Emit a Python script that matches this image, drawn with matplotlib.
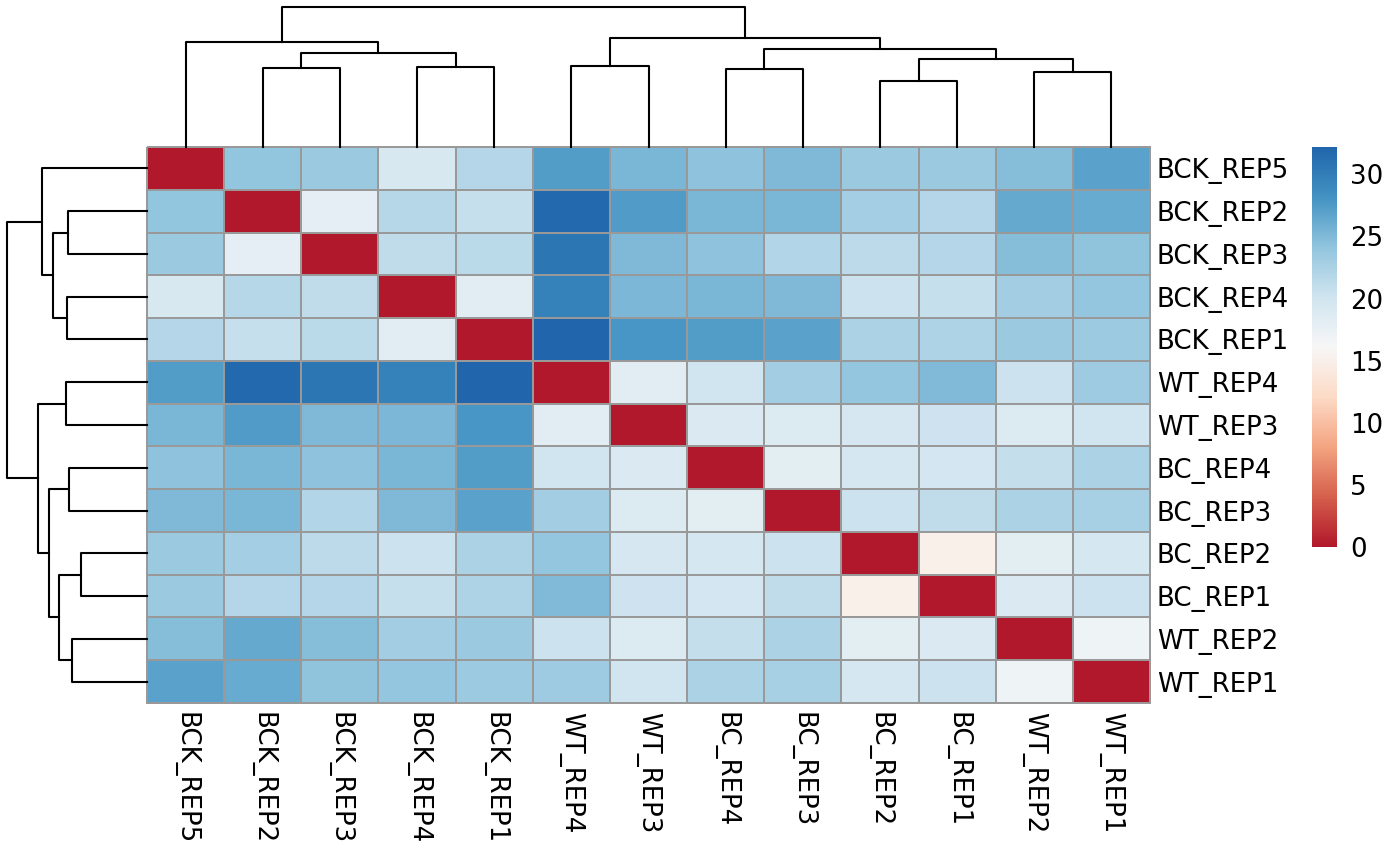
import numpy as np
import matplotlib
matplotlib.use("Agg")
import matplotlib.pyplot as plt
from matplotlib.colors import LinearSegmentedColormap

plt.rcParams['font.family'] = ['DejaVu Sans']

# ---------------- data ----------------
samples = ["BCK_REP5", "BCK_REP2", "BCK_REP3", "BCK_REP4", "BCK_REP1",
           "WT_REP4", "WT_REP3", "BC_REP4", "BC_REP3", "BC_REP2",
           "BC_REP1", "WT_REP2", "WT_REP1"]

# sample-to-sample distances (rows/cols in the order above)
distances = [
    [0.0, 24.1, 23.6, 19.4, 21.9, 27.3, 25.3, 24.3, 25.1, 23.6, 23.6, 24.7, 27.0],
    [24.1, 0.0, 18.1, 21.8, 20.8, 31.9, 27.5, 25.4, 25.4, 23.0, 21.9, 26.4, 26.2],
    [23.6, 18.1, 0.0, 21.2, 21.6, 30.7, 25.1, 24.4, 22.1, 21.4, 22.0, 24.7, 24.2],
    [19.4, 21.8, 21.2, 0.0, 18.3, 29.7, 25.2, 25.4, 25.1, 20.5, 20.8, 23.1, 24.0],
    [21.9, 20.8, 21.6, 18.3, 0.0, 32.2, 27.8, 27.3, 27.0, 22.4, 22.3, 23.6, 23.5],
    [27.3, 31.9, 30.7, 29.7, 32.2, 0.0, 18.3, 20.1, 23.1, 23.9, 25.0, 20.5, 23.3],
    [25.3, 27.5, 25.1, 25.2, 27.8, 18.3, 0.0, 19.0, 18.9, 19.5, 20.3, 18.9, 20.1],
    [24.3, 25.4, 24.4, 25.4, 27.3, 20.1, 19.0, 0.0, 18.2, 19.7, 19.8, 21.0, 22.5],
    [25.1, 25.4, 22.1, 25.1, 27.0, 23.1, 18.9, 18.2, 0.0, 20.5, 21.2, 22.5, 22.7],
    [23.6, 23.0, 21.4, 20.5, 22.4, 23.9, 19.5, 19.7, 20.5, 0.0, 15.0, 18.2, 19.7],
    [23.6, 21.9, 22.0, 20.8, 22.3, 25.0, 20.3, 19.8, 21.2, 15.0, 0.0, 19.2, 20.4],
    [24.7, 26.4, 24.7, 23.1, 23.6, 20.5, 18.9, 21.0, 22.5, 18.2, 19.2, 0.0, 17.0],
    [27.0, 26.2, 24.2, 24.0, 23.5, 23.3, 20.1, 22.5, 22.7, 19.7, 20.4, 17.0, 0.0],
]

# hierarchical clustering (scipy-style linkage: left id, right id, height)
# leaves 0..12 index into `samples`; merged clusters get ids 13, 14, ...
linkage = [
    (9, 10, 66.0),
    (11, 12, 75.0),
    (7, 8, 78.0),
    (1, 2, 79.0),
    (3, 4, 80.5),
    (5, 6, 81.0),
    (13, 14, 88.5),
    (16, 17, 94.0),
    (15, 19, 98.0),
    (0, 20, 105.0),
    (18, 21, 109.0),
    (22, 23, 140.0),
]

legend_ticks = [0, 5, 10, 15, 20, 25, 30]

# ---------------- style ----------------
rdbu9 = ["#B2182B", "#D6604D", "#F4A582", "#FDDBC7", "#F7F7F7",
         "#D1E5F0", "#92C5DE", "#4393C3", "#2166AC"]
cmap = LinearSegmentedColormap.from_list("rdbu_r", rdbu9, N=256)
mat = np.array(distances)
vmin, vmax = 0.0, mat.max()
n = len(samples)

W, H = 1400, 865
fig = plt.figure(figsize=(W / 100, H / 100), dpi=100)


def fx(px):
    return px / W


def fy(py):
    return 1 - py / H


hm_l, hm_r, hm_t, hm_b = 147, 1150, 147, 703
ax = fig.add_axes([fx(hm_l), fy(hm_b), fx(hm_r - hm_l), (hm_b - hm_t) / H])
mesh = ax.pcolormesh(np.arange(n + 1), np.arange(n + 1), mat, cmap=cmap,
                     vmin=vmin, vmax=vmax, edgecolors="#999999",
                     linewidth=1.4)
mesh.set_clip_on(False)
ax.set_xlim(0, n)
ax.set_ylim(n, 0)
for s in ax.spines.values():
    s.set_visible(False)
ax.set_xticks(np.arange(n) + 0.5)
ax.set_xticklabels(samples, rotation=270, fontsize=18.7)
ax.set_yticks(np.arange(n) + 0.5)
ax.set_yticklabels(samples, fontsize=18.7)
ax.yaxis.tick_right()
ax.tick_params(axis="x", length=0, pad=6.5)
ax.tick_params(axis="y", length=0, pad=5)

# ---------------- dendrograms ----------------
pos = {i: i + 0.5 for i in range(n)}
hgt = {i: 0.0 for i in range(n)}
segments = []
for k, (a, b, h) in enumerate(linkage):
    node = n + k
    segments.append(([pos[a], pos[a], pos[b], pos[b]], [hgt[a], h, h, hgt[b]]))
    pos[node] = (pos[a] + pos[b]) / 2
    hgt[node] = h
root_h = linkage[-1][2]

axt = fig.add_axes([fx(hm_l), fy(hm_t), fx(hm_r - hm_l), (hm_t - 7) / H])
for xs, ys in segments:
    axt.plot(xs, ys, color="black", lw=1.5, solid_capstyle="projecting",
             clip_on=False)
axt.set_xlim(0, n)
axt.set_ylim(0, root_h)
axt.axis("off")

axl = fig.add_axes([fx(7), fy(hm_b), fx(hm_l - 7), (hm_b - hm_t) / H])
for xs, ys in segments:
    axl.plot(ys, xs, color="black", lw=1.5, solid_capstyle="projecting",
             clip_on=False)
axl.set_ylim(n, 0)
axl.set_xlim(root_h, 0)
axl.axis("off")

# ---------------- legend ----------------
cb_t, cb_b = 147, 547
axc = fig.add_axes([fx(1312), fy(cb_b), fx(25), (cb_b - cb_t) / H])
grad = np.linspace(vmin, vmax, 256).reshape(-1, 1)
axc.imshow(grad, cmap=cmap, vmin=vmin, vmax=vmax, aspect="auto",
           origin="lower", extent=[0, 1, vmin, vmax])
axc.set_xlim(0, 1)
axc.set_ylim(vmin, vmax)
for s in axc.spines.values():
    s.set_visible(False)
axc.set_xticks([])
axc.yaxis.tick_right()
axc.set_yticks(legend_ticks)
axc.set_yticklabels([str(t) for t in legend_ticks], fontsize=18.7)
axc.tick_params(axis="y", length=0, pad=9.5)

fig.savefig("out.png", dpi=100)
